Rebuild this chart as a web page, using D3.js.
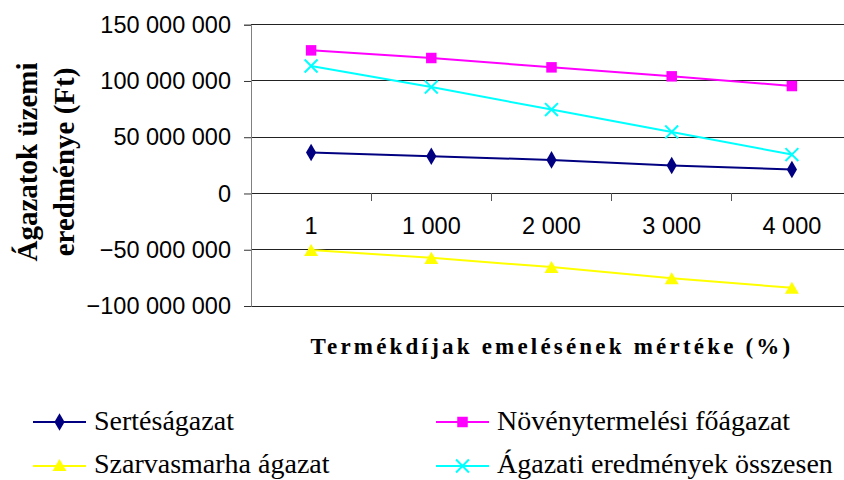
<!DOCTYPE html>
<html><head><meta charset="utf-8">
<style>
html,body{margin:0;padding:0;background:#fff;}
svg{display:block;}
.serif{font-family:'Liberation Serif','Times New Roman',Tinos,serif;}
#fontwarm{position:absolute;left:-9999px;top:0;font-family:'Liberation Serif','Times New Roman',serif;font-size:20px;}
</style>
<script src="https://cdn.jsdelivr.net/npm/d3@7"></script>
</head><body>
<div id="fontwarm" aria-hidden="true">T<b>T</b></div>
<svg id="chart" width="844" height="480" style="font-family:'Liberation Serif','Times New Roman',serif"></svg>
<script>
const categories = ["1", "1 000", "2 000", "3 000", "4 000"];
const sertes = [36400000, 33100000, 29800000, 24900000, 21300000];
const novenyt = [127200000, 120400000, 112100000, 104100000, 95500000];
const szarvas = [-50300000, -57200000, -65400000, -75400000, -83800000];
const osszesen = [113300000, 94600000, 74600000, 54700000, 34600000];
const yTicks = [-100000000, -50000000, 0, 50000000, 100000000, 150000000];
const seriesNames = ["Sertéságazat", "Növénytermelési főágazat", "Szarvasmarha ágazat", "Ágazati eredmények összesen"];
const yTitle = ["Ágazatok üzemi", "eredménye (Ft)"];
const xTitle = "Termékdíjak emelésének mértéke (%)";

const SANS = "'Liberation Sans', Arial, sans-serif";

const series = [
  {name: seriesNames[0], values: sertes, color: "#000080", sym: "diamond"},
  {name: seriesNames[1], values: novenyt, color: "#FF00FF", sym: "square"},
  {name: seriesNames[2], values: szarvas, color: "#FFFF00", sym: "triangle"},
  {name: seriesNames[3], values: osszesen, color: "#00FFFF", sym: "x"}
];

const svg = d3.select("#chart");
const pLeft = 251, pRight = 852, pTop = 24.7, pBottom = 306;
const x = d3.scaleBand().domain(categories).range([pLeft, pRight]).padding(0);
const y = d3.scaleLinear().domain([-100000000, 150000000]).range([pBottom, pTop]);
const fmt = v => d3.format(",")(v).replace(/,/g, " ");

// grid lines
svg.append("g").selectAll("line").data(yTicks).join("line")
  .attr("x1", pLeft).attr("x2", pRight)
  .attr("y1", d => y(d)).attr("y2", d => y(d))
  .attr("stroke", "#222").attr("stroke-width", 1).attr("shape-rendering", "crispEdges");

// y axis
const yAxis = svg.append("g").attr("transform", `translate(${pLeft},0)`)
  .call(d3.axisLeft(y).tickValues(yTicks).tickFormat(fmt).tickSize(7).tickPadding(13));
yAxis.select(".domain").attr("stroke", "#808080");
yAxis.selectAll(".tick line").attr("stroke", "#333");
yAxis.selectAll("text").style("font-family", SANS).style("font-size", "23.5px").attr("fill", "#000");

// x axis at zero
const xAxis = svg.append("g").attr("transform", `translate(0,${y(0)})`)
  .call(d3.axisBottom(x).tickSize(0).tickPadding(24));
xAxis.select(".domain").remove();
xAxis.selectAll("text").style("font-family", SANS).style("font-size", "23.5px").attr("fill", "#000");
// tick marks between categories
svg.append("g").selectAll("line").data(categories.slice(1)).join("line")
  .attr("x1", d => x(d)).attr("x2", d => x(d))
  .attr("y1", y(0)).attr("y2", y(0) + 8)
  .attr("stroke", "#555").attr("shape-rendering", "crispEdges");

const symMap = {
  diamond: d3.symbol().type(d3.symbolDiamond).size(90),
  square: d3.symbol().type(d3.symbolSquare).size(110),
  triangle: d3.symbol().type(d3.symbolTriangle).size(85),
  x: d3.symbol().type(d3.symbolX).size(110)
};

const line = d3.line().x((d, i) => x(categories[i]) + x.bandwidth() / 2).y(d => y(d));
series.forEach(s => {
  const g = svg.append("g");
  g.append("path").attr("d", line(s.values)).attr("fill", "none").attr("stroke", s.color).attr("stroke-width", 2);
  g.selectAll("path.m").data(s.values).join("path").attr("class", "m")
    .attr("transform", (d, i) => `translate(${x(categories[i]) + x.bandwidth() / 2},${y(d) + (s.sym === "triangle" ? 2 : 0)})`)
    .attr("d", symMap[s.sym]())
    .attr("fill", s.sym === "x" ? "none" : s.color)
    .attr("stroke", s.color).attr("stroke-width", s.sym === "x" ? 2 : 0);
});

// x axis title
svg.append("text").attr("class", "serif").attr("x", 552).attr("y", 354).attr("text-anchor", "middle")
  .attr("font-weight", "bold").attr("font-size", 23).attr("letter-spacing", 3.2).text(xTitle);

// y axis title
const yt = svg.append("text").attr("class", "serif").attr("transform", "translate(0,162) rotate(-90)")
  .attr("text-anchor", "middle").attr("font-weight", "bold").attr("font-size", 29);
yt.append("tspan").attr("x", 0).attr("y", 37).text(yTitle[0]);
yt.append("tspan").attr("x", 0).attr("y", 74).text(yTitle[1]);

// legend
const legPos = [[33, 422], [436, 422], [33, 466], [436, 466]];
const legBase = [8, 8, 7, 7];
series.forEach((s, i) => {
  const [lx, ly] = legPos[i];
  const g = svg.append("g").attr("transform", `translate(${lx},${ly})`);
  g.append("line").attr("x1", 0).attr("x2", 53).attr("y1", 0).attr("y2", 0).attr("stroke", s.color).attr("stroke-width", 2);
  g.append("path").attr("transform", `translate(26.5,${s.sym === "triangle" ? 1 : 0})`).attr("d", symMap[s.sym]())
    .attr("fill", s.sym === "x" ? "none" : s.color).attr("stroke", s.color).attr("stroke-width", s.sym === "x" ? 2 : 0);
  g.append("text").attr("class", "serif").attr("x", 61).attr("y", legBase[i]).attr("font-size", 28).text(s.name);
});
</script>
</body></html>
